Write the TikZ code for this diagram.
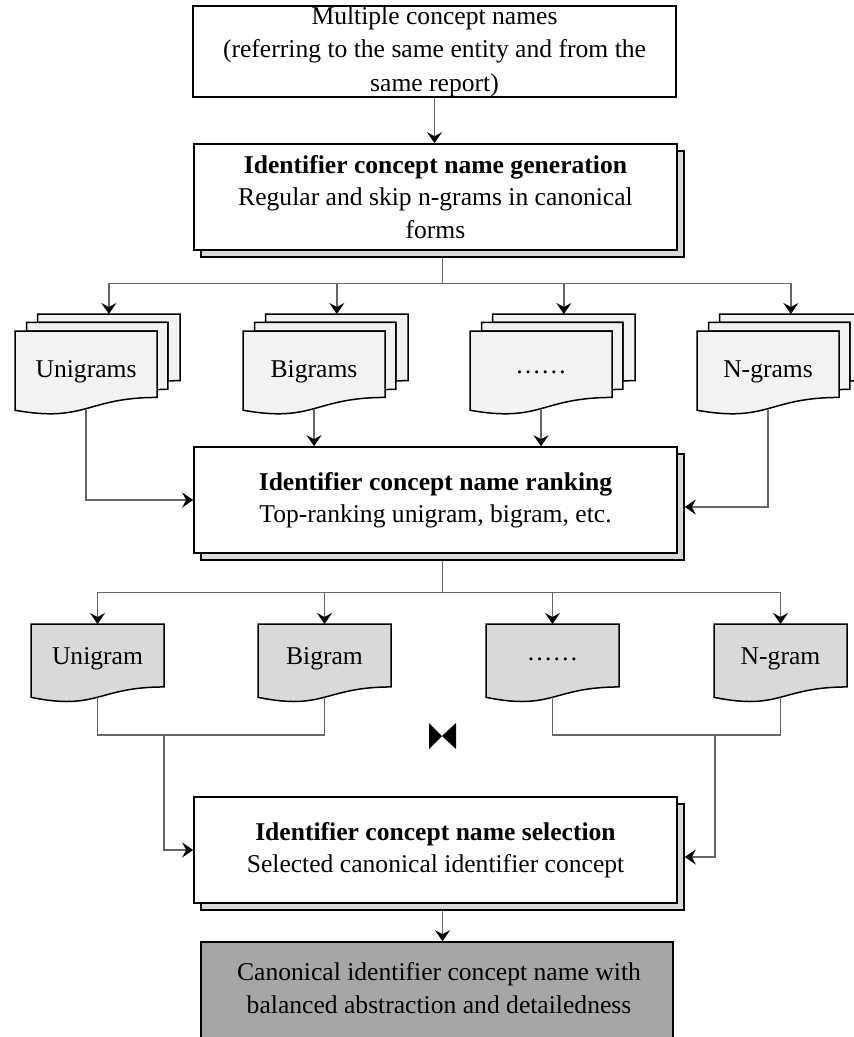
\documentclass[tikz,border=0pt]{standalone}
\usepackage{fontspec}
\setmainfont{Liberation Serif}
\usetikzlibrary{arrows.meta}
\definecolor{sheetfill}{HTML}{F2F2F2}
\definecolor{docfill}{HTML}{D9D9D9}
\definecolor{shadowfill}{HTML}{D9D9D9}
\definecolor{finalfill}{HTML}{A6A6A6}
\definecolor{wirecol}{HTML}{666666}
\tikzset{
  % stack of three sheets with a wavy bottom edge (flowchart multi-document)
  pics/multidoc/.style={code={
    \begin{scope}[x=0.763889pt,y=-0.462963pt]
      \path[sheet] (29.72,18.15) -- (29.72,0) -- (216,0) -- (216,143.92)
        .. controls (208,143.92) and (200,144.67) .. (200,144.67) -- (200,18.15) -- cycle;
      \path[sheet] (15.32,36.75) -- (15.32,18.15) -- (200,18.15) -- (200,162.52)
        .. controls (192.98,162.52) and (185.95,163.52) .. (185.95,163.52) -- (185.95,36.75) -- cycle;
      \path[sheet] (0,207.82) .. controls (92.98,235.42) and (92.98,180.22) .. (185.95,180.22)
        -- (185.95,36.75) -- (0,36.75) -- cycle;
      \node (-label) at (93,125) {#1};
      \coordinate (-in) at (122.86,0);
      \coordinate (-out) at (92.98,204.4);
    \end{scope}
  }},
  % single flowchart document
  pics/singledoc/.style={code={
    \begin{scope}[x=0.615741pt,y=-0.363426pt]
      \path[doc] (0,0) -- (216,0) -- (216,173.22)
        .. controls (108,173.22) and (108,239.22) .. (0,201.72) -- cycle;
      \node (-label) at (108,96) {#1};
      \coordinate (-in) at (108,0);
      \coordinate (-out) at (108,201.5);
    \end{scope}
  }}
}
\begin{document}
\begin{tikzpicture}[x=1pt,y=-1pt,
  font=\fontsize{25.6}{32.5}\selectfont,
  sheet/.style={draw=black, line width=1.5pt, fill=sheetfill, line join=miter},
  doc/.style={draw=black, line width=1.5pt, fill=docfill, line join=miter},
  box/.style={draw=black, line width=1.6pt, fill=white, align=center, inner sep=0pt,
    minimum width=483pt, minimum height=106pt},
  shadowbox/.style={draw=black, line width=1.6pt, fill=shadowfill, inner sep=0pt,
    minimum width=483pt, minimum height=106pt},
  wire/.style={draw=wirecol, line width=1.3pt},
  arr/.style={wire, -{Stealth[length=11pt,width=15pt,inset=4pt,color=black]}}
]
\useasboundingbox (0,0) rectangle (854,1037);

% input box
\node[box, minimum height=91pt, font=\fontsize{25.6}{33.5}\selectfont] (top) at (434.5,51.5)
  {Multiple concept names\\(referring to the same entity and from the\\same report)};

% generation step
\node[shadowbox] (gen-sh) at (442.5,204) {};
\node[box] (gen) at (435.5,197)
  {\textbf{Identifier concept name generation}\\Regular and skip n-grams in canonical\\forms};

% n-gram candidate sets
\pic (uni) at (15,314) {multidoc=Unigrams};
\pic (bi) at (243,314) {multidoc=Bigrams};
\pic (dots) at (470,314) {multidoc=……};
\pic (ng) at (697,314) {multidoc=N-grams};

% ranking step
\node[shadowbox] (rank-sh) at (442.5,507) {};
\node[box] (rank) at (435.5,500)
  {\textbf{Identifier concept name ranking}\\Top-ranking unigram, bigram, etc.};

% top-ranked names
\pic (uni1) at (31,624) {singledoc=Unigram};
\pic (bi1) at (258,624) {singledoc=Bigram};
\pic (dots1) at (486,624) {singledoc=……};
\pic (ng1) at (714,624) {singledoc=N-gram};

% selection step
\node[shadowbox] (sel-sh) at (442.5,857) {};
\node[box] (sel) at (435.5,850)
  {\textbf{Identifier concept name selection}\\Selected canonical identifier concept};

% output
\node[box, fill=finalfill, minimum width=472pt, minimum height=108pt] (final) at (437,996) {};
\node[align=center] (final-text) at (439,988)
  {Canonical identifier concept name with\\balanced abstraction and detailedness};

% connectors
\draw[arr] (top.south) -- (top.south |- gen.north);
\draw[wire] (gen-sh.south) -- ++(0,26) coordinate (bus1);
\draw[arr] (bus1) -| (uni-in);
\draw[arr] (bus1) -| (bi-in);
\draw[arr] (bus1) -| (dots-in);
\draw[arr] (bus1) -| (ng-in);

\draw[arr] (uni-out) |- (rank.west);
\draw[arr] (bi-out) -- (bi-out |- rank.north);
\draw[arr] (dots-out) -- (dots-out |- rank.north);
\draw[arr] (ng-out) |- (rank-sh.east);

\draw[wire] (rank-sh.south) -- ++(0,32) coordinate (bus2);
\draw[arr] (bus2) -| (uni1-in);
\draw[arr] (bus2) -| (bi1-in);
\draw[arr] (bus2) -| (dots1-in);
\draw[arr] (bus2) -| (ng1-in);

\coordinate (jl) at (164,735);
\coordinate (jr) at (715,735);
\draw[wire] (uni1-out) |- (jl);
\draw[wire] (bi1-out) |- (jl);
\draw[wire] (dots1-out) |- (jr);
\draw[wire] (ng1-out) |- (jr);
\draw[arr] (jl) |- (sel.west);
\draw[arr] (jr) |- (sel-sh.east);

\draw[arr] (sel-sh.south) -- (sel-sh.south |- final.north);

% join symbol
\fill[black] (429,723) -- (442,736) -- (429,749) -- cycle;
\fill[black] (456,723) -- (442,736) -- (456,749) -- cycle;
\end{tikzpicture}
\end{document}
